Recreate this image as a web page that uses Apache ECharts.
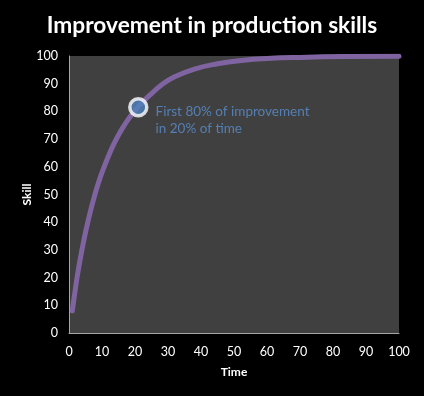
<!DOCTYPE html>
<html>
<head>
<meta charset="utf-8">
<script src="https://cdn.jsdelivr.net/npm/echarts@6/dist/echarts.min.js"></script>
<style>html,body{margin:0;padding:0;background:#000;}#c{width:424px;height:396px;}</style>
</head>
<body>
<div id="c"></div>
<script>
const titleText = "Improvement in production skills";
const timeValues = [1, 2, 3, 4.5, 6, 7.5, 9, 10.5, 12, 13.5, 15, 16.5, 18, 19.5, 21, 23, 25, 28, 32, 38, 45, 53, 60, 70, 85, 100];
const skillValues = [8, 16.5, 24, 33.5, 41.5, 48.5, 54.5, 59.5, 64, 68, 71.5, 74.5, 77.2, 79.6, 81.7, 84.2, 86.4, 89.5, 92.5, 95.3, 97.2, 98.5, 99.1, 99.5, 99.8, 99.9];
const highlightPoint = [21, 81.5];
const annotationText = "First 80% of improvement\nin 20% of time";
const xTicks = [0, 10, 20, 30, 40, 50, 60, 70, 80, 90, 100];
const yTicks = [0, 10, 20, 30, 40, 50, 60, 70, 80, 90, 100];

const font = "Lato, 'Open Sans', sans-serif";
const chart = echarts.init(document.getElementById('c'), null, {renderer: 'canvas'});
chart.setOption({
  backgroundColor: '#000',
  animation: false,
  title: {
    text: titleText, left: 'center', top: 9,
    textStyle: {color: '#fff', fontSize: 22.7, fontWeight: 'bold', fontFamily: font}
  },
  grid: {left: 69, right: 25, top: 56, bottom: 63, show: true, backgroundColor: '#404040', borderWidth: 0},
  xAxis: {
    type: 'value', min: xTicks[0], max: xTicks[xTicks.length - 1], interval: 10,
    name: 'Time', nameLocation: 'middle', nameGap: 33,
    nameTextStyle: {color: '#fff', fontSize: 12, fontWeight: 'bold', fontFamily: font},
    axisLine: {show: true, lineStyle: {color: '#a6a6a6', width: 1}},
    axisTick: {show: false},
    splitLine: {show: false},
    axisLabel: {color: '#fff', fontSize: 12.5, margin: 12, fontFamily: font}
  },
  yAxis: {
    type: 'value', min: yTicks[0], max: yTicks[yTicks.length - 1], interval: 10,
    name: 'Skill', nameLocation: 'middle', nameGap: 36, nameRotate: 90, nameMoveOverlap: false,
    nameTextStyle: {color: '#fff', fontSize: 12, fontWeight: 'bold', fontFamily: font},
    axisLine: {show: true, lineStyle: {color: '#a6a6a6', width: 1}},
    axisTick: {show: false},
    splitLine: {show: false},
    axisLabel: {color: '#fff', fontSize: 12.5, margin: 11, fontFamily: font}
  },
  series: [
    {
      type: 'line', smooth: true, symbol: 'none',
      data: timeValues.map((t, i) => [t, skillValues[i]]),
      lineStyle: {color: '#8064a2', width: 5, cap: 'round'}
    },
    {
      type: 'scatter', symbol: 'circle', symbolSize: 17,
      data: [highlightPoint],
      itemStyle: {color: '#4f81bd', borderColor: '#fff', borderWidth: 3.5},
      label: {
        show: true, position: 'right', distance: 7, offset: [0, 13],
        formatter: annotationText, color: '#5a8fd0', fontSize: 13.5, lineHeight: 17,
        fontFamily: font, align: 'left'
      },
      z: 5
    }
  ]
});
</script>
</body>
</html>
